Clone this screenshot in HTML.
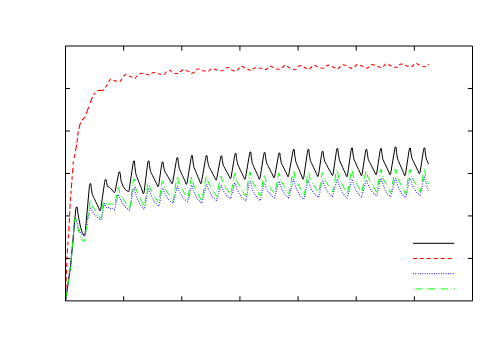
<!DOCTYPE html>
<html><head><meta charset="utf-8"><style>
html,body{margin:0;padding:0;background:#fff;}
body{width:500px;height:350px;overflow:hidden;font-family:"Liberation Sans",sans-serif;}
svg{display:block}
</style></head><body>
<svg width="500" height="350" viewBox="0 0 500 350">
<rect width="500" height="350" fill="#fff"/>
<g fill="none" stroke-linejoin="round" stroke-linecap="butt">
<path d="M65.5 300.9 L68.3 282.0 L70.7 265.0 L71.5 256.0 L73.0 240.0 L75.7 209.8 L76.3 207.0 L77.1 207.0 L77.9 212.9 L79.0 219.5 L80.6 227.3 L82.2 232.4 L83.3 234.6 L84.0 234.7 L84.5 235.3 L85.1 233.8 L89.4 186.4 L90.0 183.6 L90.8 183.6 L91.4 188.7 L92.1 193.1 L92.4 194.8 L93.3 196.6 L94.3 198.6 L95.7 201.7 L97.2 204.7 L98.6 207.8 L99.6 210.2 L100.1 210.8 L100.7 209.3 L104.6 182.4 L105.2 179.6 L106.0 179.6 L106.6 182.4 L107.4 186.4 L109.5 187.3 L111.0 188.8 L113.2 191.3 L114.0 192.2 L114.5 192.8 L115.1 191.3 L118.4 174.8 L119.0 172.0 L119.8 172.0 L120.4 174.8 L121.0 180.7 L123.1 186.4 L125.0 189.2 L126.7 190.7 L128.0 191.2 L128.5 191.8 L129.1 190.3 L133.0 163.8 L133.6 161.0 L134.4 161.0 L134.9 167.2 L135.7 172.6 L136.0 174.5 L136.8 176.7 L137.8 179.2 L139.2 182.8 L140.7 186.5 L142.1 190.1 L143.0 193.2 L143.5 193.8 L144.1 192.3 L147.6 163.8 L148.2 161.0 L149.0 161.0 L149.5 165.8 L150.3 170.0 L150.6 171.6 L151.4 173.3 L152.4 175.3 L153.8 178.1 L155.2 181.0 L156.7 183.9 L157.6 186.2 L158.1 186.8 L158.7 185.3 L161.6 164.8 L162.2 162.0 L163.0 162.0 L163.5 166.0 L164.3 169.6 L164.6 170.9 L165.4 172.4 L166.4 174.0 L167.8 176.5 L169.2 178.9 L170.7 181.4 L171.6 183.2 L172.1 183.8 L172.7 182.3 L176.4 160.4 L177.0 157.6 L177.8 157.6 L178.3 162.6 L179.0 167.0 L179.3 168.6 L180.1 170.4 L181.0 172.4 L182.4 175.4 L183.8 178.4 L185.1 181.4 L186.0 183.8 L186.5 184.4 L187.1 182.9 L191.0 158.4 L191.6 155.6 L192.4 155.6 L192.9 160.9 L193.6 165.5 L193.9 167.2 L194.7 169.1 L195.6 171.2 L196.9 174.4 L198.2 177.5 L199.6 180.7 L200.4 183.2 L200.9 183.8 L201.5 182.3 L205.6 158.4 L206.2 155.6 L207.0 155.6 L207.5 160.2 L208.3 164.2 L208.6 165.7 L209.4 167.4 L210.4 169.2 L211.8 171.9 L213.2 174.7 L214.7 177.4 L215.6 179.6 L216.1 180.2 L216.7 178.7 L220.4 158.8 L221.0 156.0 L221.8 156.0 L222.3 160.2 L223.0 164.0 L223.3 165.3 L224.1 166.9 L225.0 168.6 L226.4 171.1 L227.8 173.7 L229.1 176.2 L230.0 178.2 L230.5 178.8 L231.1 177.3 L234.6 156.2 L235.2 153.4 L236.0 153.4 L236.5 158.3 L237.3 162.5 L237.6 164.1 L238.4 165.8 L239.3 167.8 L240.7 170.7 L242.1 173.6 L243.5 176.5 L244.4 178.8 L244.9 179.4 L245.5 177.9 L249.4 154.8 L250.0 152.0 L250.8 152.0 L251.3 157.2 L252.0 161.6 L252.3 163.3 L253.1 165.1 L254.0 167.2 L255.4 170.2 L256.8 173.3 L258.1 176.3 L259.0 178.8 L259.5 179.4 L260.1 177.9 L263.6 155.4 L264.2 152.6 L265.0 152.6 L265.6 157.3 L266.3 161.4 L266.6 163.0 L267.5 164.6 L268.4 166.5 L269.8 169.3 L271.2 172.2 L272.7 175.0 L273.6 177.2 L274.1 177.8 L274.7 176.3 L278.4 155.8 L279.0 153.0 L279.8 153.0 L280.3 157.4 L281.0 161.3 L281.2 162.8 L282.0 164.4 L282.9 166.1 L284.2 168.8 L285.5 171.5 L286.8 174.1 L287.6 176.2 L288.1 176.8 L288.7 175.3 L292.8 152.2 L293.4 149.4 L294.2 149.4 L294.7 155.0 L295.5 159.9 L295.8 161.7 L296.6 163.7 L297.5 165.9 L298.9 169.2 L300.3 172.5 L301.7 175.9 L302.6 178.6 L303.1 179.2 L303.7 177.7 L307.4 152.2 L308.0 149.4 L308.8 149.4 L309.3 154.5 L310.1 158.9 L310.4 160.6 L311.2 162.4 L312.2 164.4 L313.6 167.5 L315.0 170.5 L316.5 173.6 L317.4 176.0 L317.9 176.6 L318.5 175.1 L321.6 154.2 L322.2 151.4 L323.0 151.4 L323.6 155.9 L324.4 159.9 L324.7 161.3 L325.6 163.0 L326.6 164.8 L328.0 167.5 L329.5 170.2 L331.0 172.9 L332.0 175.0 L332.5 175.6 L333.1 174.1 L336.4 151.2 L337.0 148.4 L337.8 148.4 L338.3 153.8 L339.1 158.4 L339.4 160.1 L340.2 162.0 L341.2 164.1 L342.6 167.3 L344.0 170.5 L345.5 173.6 L346.4 176.2 L346.9 176.8 L347.5 175.3 L351.0 150.8 L351.6 148.0 L352.4 148.0 L352.9 153.2 L353.7 157.8 L354.0 159.4 L354.9 161.3 L355.8 163.4 L357.2 166.5 L358.6 169.6 L360.1 172.7 L361.0 175.2 L361.5 175.8 L362.1 174.3 L365.4 152.2 L366.0 149.4 L366.8 149.4 L367.4 154.2 L368.1 158.3 L368.4 159.8 L369.3 161.5 L370.3 163.4 L371.7 166.3 L373.2 169.1 L374.6 172.0 L375.6 174.2 L376.1 174.8 L376.7 173.3 L380.0 151.4 L380.6 148.6 L381.4 148.6 L381.9 153.5 L382.6 157.8 L382.9 159.4 L383.7 161.1 L384.6 163.1 L386.0 166.0 L387.4 168.9 L388.7 171.9 L389.6 174.2 L390.1 174.8 L390.7 173.3 L394.6 149.8 L395.2 147.0 L396.0 147.0 L396.5 152.4 L397.3 157.1 L397.6 158.9 L398.4 160.8 L399.3 162.9 L400.7 166.2 L402.1 169.4 L403.5 172.6 L404.4 175.2 L404.9 175.8 L405.5 174.3 L409.0 150.8 L409.6 148.0 L410.4 148.0 L410.9 152.8 L411.7 157.0 L412.0 158.6 L412.9 160.3 L413.8 162.3 L415.2 165.1 L416.6 168.0 L418.1 170.9 L419.0 173.2 L419.5 173.8 L420.1 172.3 L423.4 150.8 L424.0 148.0 L424.8 148.0 L425.3 152.9 L426.0 157.2 L426.2 158.8 L427.0 160.5 L427.9 162.5 L428.6 164.0" stroke="#000" stroke-width="1"/>
<path d="M65.5 300.8 L65.6 297.5 M65.7 295.0 L65.9 290.8 M65.9 288.4 L66.1 284.2 M66.2 281.2 L66.3 277.0 M66.4 274.0 L66.6 269.8 M66.7 267.0 L66.8 262.8 M66.9 259.8 L67.1 256.2 M67.2 253.2 L67.5 248.4 M67.8 245.4 L68.0 241.8 M68.2 238.4 L68.5 234.2 M68.7 231.2 L68.9 228.6 L69.0 225.8 M69.2 222.8 L69.5 218.0 M69.6 215.0 L69.8 211.4 M69.9 209.0 L70.2 203.6 M70.3 201.2 L70.4 200.0 L70.7 196.6 M70.9 194.2 L71.1 190.6 M71.3 188.2 L71.8 182.2 M72.0 179.8 L72.2 176.2 M72.5 173.2 L72.9 167.8 M73.1 164.8 L73.4 161.4 L73.4 161.2 M74.1 158.0 L74.9 154.2 M75.5 151.2 L75.6 150.6 L76.7 144.6 M76.9 142.8 L77.5 138.0 M77.7 135.6 L78.0 133.2 L78.4 131.4 M78.9 129.0 L79.8 124.8 L80.9 122.6 M82.1 120.2 L82.2 120.0 L85.2 116.8 M86.3 113.8 L88.8 106.6 M90.2 103.0 L92.4 97.0 M93.6 94.6 L95.3 92.8 M97.2 90.9 L97.5 90.8 L100 90.2 L103 90.5" stroke="#ff0000" stroke-width="1.1"/>
<path d="M103.0 90.5 L105.0 88.5 L107.0 85.0 L108.5 82.0 L110.5 79.2 L113.0 80.2 L116.5 81.2 L120.0 81.8 L122.0 78.8 L124.0 75.5 L125.5 74.5 L129.0 76.0 L133.0 77.5 L135.0 78.5 L137.5 75.5 L140.0 73.5 L142.0 73.5 L146.5 74.3 L149.5 75.0 L152.5 72.8 L155.0 72.5 L158.5 73.8 L161.5 74.5 L164.5 74.3 L166.5 71.5 L169.0 70.3 L170.5 70.5 L172.0 72.2 L175.0 73.5 L179.0 73.5 L180.5 71.5 L183.5 69.5 L186.0 70.5 L189.0 71.5 L192.0 73.5 L194.5 72.0 L196.5 69.2 L200.0 69.0 L202.5 70.5 L206.5 71.5 L209.0 71.0 L211.0 68.8 L214.0 69.0 L217.5 70.3 L220.0 70.7 L223.0 70.5 L225.0 68.0 L228.5 67.5 L231.0 69.5 L234.5 71.2 L237.5 70.5 L239.5 67.5 L241.0 66.0 L242.5 66.5 L245.5 68.5 L248.5 69.5 L251.5 70.8 L253.5 68.5 L256.0 67.5 L259.0 68.0 L262.5 68.5 L265.5 69.8 L267.5 68.5 L270.0 66.3 L273.0 67.2 L276.0 69.0 L279.5 69.2 L282.0 68.0 L284.5 65.5 L285.5 65.0 L287.0 66.0 L290.5 68.5 L293.0 69.5 L296.0 69.3 L297.5 66.5 L300.5 65.5 L303.5 66.8 L306.8 68.5 L309.0 69.5 L312.0 66.5 L314.5 65.2 L317.5 66.8 L320.5 68.0 L324.5 68.3 L326.2 66.0 L328.5 65.0 L331.5 66.5 L335.0 68.0 L338.0 68.8 L340.5 66.0 L343.0 64.8 L346.0 65.5 L349.0 67.2 L351.8 68.5 L354.5 66.8 L357.0 64.5 L359.5 65.0 L363.0 66.5 L367.0 68.2 L369.0 67.0 L371.5 64.5 L374.5 65.1 L377.0 66.0 L380.5 67.5 L383.0 67.0 L385.5 64.0 L387.0 63.5 L388.5 64.5 L391.5 66.2 L394.5 67.3 L398.0 67.2 L399.5 64.5 L401.5 64.0 L403.5 64.2 L405.5 65.5 L409.5 66.8 L412.0 66.5 L414.5 64.0 L416.3 63.1 L417.5 64.0 L419.5 65.2 L422.5 66.2 L426.5 66.8 L428.0 65.0 L428.7 64.3" stroke="#ff0000" stroke-width="1.1" stroke-dasharray="3.7 2.808" stroke-dashoffset="2.571"/>
<path d="M65.5 300.9 L68.3 282.0 L70.7 265.0 L71.5 256.0 L73.0 240.0 L74.4 221.2 L75.0 218.4 L75.8 218.4 L76.5 221.0 L77.9 226.0 L79.5 230.5 L81.5 234.0 L83.0 235.6 L84.0 236.2 L84.5 236.8 L85.1 235.3 L89.6 210.2 L90.2 207.4 L91.0 207.4 L91.6 209.4 L92.5 211.0 L92.8 211.6 L93.7 213.1 L94.8 214.6 L96.3 216.4 L97.9 217.8 L99.4 218.9 L100.5 219.2 L101.0 219.8 L101.6 218.3 L103.6 206.4 L104.2 203.6 L105.0 203.6 L105.6 206.4 L107.0 208.0 L109.0 207.6 L111.0 208.6 L112.5 208.2 L114.0 209.0 L114.5 209.6 L115.1 208.1 L117.2 197.5 L117.8 194.7 L118.6 194.7 L119.3 197.2 L120.2 199.3 L120.6 199.9 L121.6 201.8 L122.7 203.7 L124.4 205.9 L126.0 207.6 L127.7 209.0 L128.9 209.5 L129.4 210.1 L130.0 208.6 L133.0 190.7 L133.6 187.9 L134.4 187.9 L135.0 191.5 L135.8 194.3 L136.1 195.3 L137.0 197.9 L138.0 200.4 L139.6 203.4 L141.1 205.8 L142.6 207.7 L143.6 208.6 L144.1 209.2 L144.7 207.7 L147.6 191.2 L148.2 188.4 L149.0 188.4 L149.6 191.4 L150.4 193.7 L150.7 194.5 L151.7 196.6 L152.7 198.7 L154.2 201.3 L155.7 203.3 L157.3 204.9 L158.3 205.5 L158.8 206.1 L159.4 204.6 L161.6 191.2 L162.2 188.4 L163.0 188.4 L163.6 190.8 L164.5 192.8 L164.8 193.4 L165.7 195.3 L166.7 197.0 L168.3 199.1 L169.8 200.8 L171.4 202.2 L172.4 202.6 L172.9 203.2 L173.5 201.7 L176.4 189.2 L177.0 186.4 L177.8 186.4 L178.4 188.9 L179.2 191.0 L179.5 191.6 L180.4 193.5 L181.4 195.4 L183.0 197.6 L184.5 199.3 L186.0 200.7 L187.0 201.2 L187.5 201.8 L188.1 200.3 L191.0 188.2 L191.6 185.4 L192.4 185.4 L192.9 188.4 L193.7 190.7 L194.0 191.5 L194.8 193.7 L195.8 195.8 L197.2 198.3 L198.7 200.4 L200.1 202.0 L201.0 202.6 L201.5 203.2 L202.1 201.7 L205.6 187.2 L206.2 184.4 L207.0 184.4 L207.6 187.0 L208.4 189.1 L208.7 189.8 L209.6 191.8 L210.6 193.7 L212.0 196.0 L213.5 197.8 L215.0 199.2 L216.0 199.7 L216.5 200.3 L217.1 198.8 L220.0 188.2 L220.6 185.4 L221.4 185.4 L221.9 187.6 L222.7 189.3 L223.0 189.9 L223.8 191.6 L224.8 193.2 L226.2 195.1 L227.7 196.6 L229.1 197.9 L230.0 198.2 L230.5 198.8 L231.1 197.3 L234.0 186.2 L234.6 183.4 L235.4 183.4 L236.1 186.3 L236.9 188.6 L237.2 189.4 L238.2 191.5 L239.2 193.5 L240.8 196.1 L242.3 198.0 L243.9 199.6 L245.0 200.2 L245.5 200.8 L246.1 199.3 L249.0 184.2 L249.6 181.4 L250.4 181.4 L251.0 184.7 L251.8 187.2 L252.1 188.1 L253.0 190.5 L254.0 192.7 L255.6 195.5 L257.1 197.7 L258.6 199.4 L259.6 200.2 L260.1 200.8 L260.7 199.3 L263.4 186.2 L264.0 183.4 L264.8 183.4 L265.4 185.7 L266.2 187.6 L266.5 188.3 L267.4 190.1 L268.4 191.8 L270.0 193.9 L271.5 195.5 L273.0 196.8 L274.0 197.2 L274.5 197.8 L275.1 196.3 L278.0 184.2 L278.6 181.4 L279.4 181.4 L279.9 184.1 L280.7 186.3 L281.0 187.0 L281.9 189.0 L282.8 191.0 L284.2 193.3 L285.6 195.2 L287.1 196.6 L288.0 197.2 L288.5 197.8 L289.1 196.3 L292.6 182.5 L293.2 179.7 L294.0 179.7 L294.6 183.0 L295.4 185.6 L295.7 186.5 L296.6 188.9 L297.6 191.1 L299.2 194.0 L300.7 196.2 L302.2 197.9 L303.2 198.7 L303.7 199.3 L304.3 197.8 L307.3 183.7 L307.9 180.9 L308.7 180.9 L309.3 183.7 L310.1 185.9 L310.4 186.6 L311.3 188.7 L312.3 190.6 L313.8 193.0 L315.3 194.9 L316.8 196.4 L317.8 197.0 L318.3 197.6 L318.9 196.1 L321.5 184.2 L322.1 181.4 L322.9 181.4 L323.5 183.9 L324.3 185.8 L324.6 186.5 L325.5 188.4 L326.5 190.1 L328.0 192.3 L329.5 194.0 L331.0 195.3 L332.0 195.8 L332.5 196.4 L333.1 194.9 L336.4 182.0 L337.0 179.2 L337.8 179.2 L338.4 182.4 L339.1 184.9 L339.4 185.7 L340.3 188.0 L341.3 190.2 L342.7 193.0 L344.2 195.1 L345.6 196.8 L346.6 197.5 L347.1 198.1 L347.7 196.6 L351.0 182.2 L351.6 179.4 L352.4 179.4 L352.9 182.3 L353.7 184.6 L354.0 185.4 L354.9 187.5 L355.8 189.5 L357.2 192.1 L358.6 194.0 L360.1 195.6 L361.0 196.2 L361.5 196.8 L362.1 195.3 L365.4 183.2 L366.0 180.4 L366.8 180.4 L367.4 182.9 L368.2 185.0 L368.5 185.6 L369.4 187.5 L370.4 189.4 L372.0 191.6 L373.5 193.3 L375.0 194.7 L376.0 195.2 L376.5 195.8 L377.1 194.3 L380.0 181.2 L380.6 178.4 L381.4 178.4 L381.9 181.5 L382.7 183.9 L383.0 184.7 L383.9 187.0 L384.8 189.1 L386.2 191.8 L387.6 193.9 L389.1 195.5 L390.0 196.2 L390.5 196.8 L391.1 195.3 L394.5 181.2 L395.1 178.4 L395.9 178.4 L396.5 181.7 L397.3 184.2 L397.6 185.1 L398.5 187.5 L399.5 189.7 L401.0 192.5 L402.5 194.7 L404.0 196.4 L405.0 197.2 L405.5 197.8 L406.1 196.3 L409.0 181.2 L409.6 178.4 L410.4 178.4 L411.0 181.2 L411.8 183.5 L412.1 184.2 L413.0 186.3 L414.0 188.3 L415.6 190.8 L417.1 192.7 L418.6 194.2 L419.6 194.8 L420.1 195.4 L420.7 193.9 L423.4 180.2 L424.0 177.4 L424.8 177.4 L425.3 180.8 L426.0 183.4 L426.2 184.3 L427.0 186.7 L427.9 189.0 L428.6 190.6" stroke="#0000ff" stroke-width="1.2" stroke-dasharray="0.75 1.59"/>
<path d="M65.5 300.9 L68.3 282.0 L70.7 265.0 L71.5 256.0 L73.0 240.0 L74.4 221.2 L75.0 218.4 L75.8 218.4 L76.7 223.1 L78.0 228.5 L79.8 234.8 L81.5 239.0 L82.8 240.7 L83.6 240.7 L84.1 241.3 L84.7 239.8 L89.6 203.2 L90.2 200.4 L91.0 200.4 L91.6 203.7 L92.5 206.6 L92.8 207.0 L93.7 208.3 L94.8 209.7 L96.3 211.9 L97.9 214.0 L99.4 216.2 L100.5 217.7 L101.0 218.3 L101.6 216.8 L103.0 203.9 L103.6 201.1 L104.4 201.1 L105.0 203.9 L106.0 203.6 L108.5 204.3 L110.5 203.6 L112.5 204.3 L114.0 204.7 L114.5 205.3 L115.1 203.8 L117.4 190.7 L118.0 187.9 L118.8 187.9 L119.5 191.7 L120.4 195.1 L120.7 195.6 L121.7 197.0 L122.8 198.7 L124.5 201.1 L126.1 203.6 L127.8 206.0 L128.9 207.9 L129.4 208.5 L130.0 207.0 L133.0 181.8 L133.6 179.0 L134.4 179.0 L135.0 184.2 L135.8 188.8 L136.1 189.4 L137.0 191.4 L138.0 193.6 L139.6 196.9 L141.1 200.2 L142.6 203.5 L143.6 206.2 L144.1 206.8 L144.7 205.3 L147.6 184.8 L148.2 182.0 L149.0 182.0 L149.6 185.8 L150.4 189.2 L150.7 189.7 L151.6 191.2 L152.6 192.9 L154.0 195.4 L155.5 197.8 L157.0 200.3 L158.0 202.2 L158.5 202.8 L159.1 201.3 L161.6 184.0 L162.2 181.2 L163.0 181.2 L163.6 184.8 L164.5 188.0 L164.8 188.5 L165.7 189.9 L166.7 191.4 L168.3 193.8 L169.8 196.1 L171.4 198.5 L172.4 200.2 L172.9 200.8 L173.5 199.3 L176.4 180.2 L177.0 177.4 L177.8 177.4 L178.4 181.3 L179.2 184.7 L179.5 185.2 L180.4 186.7 L181.4 188.4 L183.0 190.9 L184.5 193.4 L186.0 195.9 L187.0 197.8 L187.5 198.4 L188.1 196.9 L191.0 179.8 L191.6 177.0 L192.4 177.0 L192.9 181.4 L193.7 185.3 L194.0 185.9 L194.8 187.6 L195.8 189.5 L197.2 192.3 L198.7 195.1 L200.1 198.0 L201.0 200.2 L201.5 200.8 L202.1 199.3 L205.6 178.8 L206.2 176.0 L207.0 176.0 L207.6 179.7 L208.4 183.1 L208.7 183.5 L209.6 185.0 L210.6 186.6 L212.0 189.0 L213.5 191.5 L215.0 193.9 L216.0 195.7 L216.5 196.3 L217.1 194.8 L220.0 179.1 L220.6 176.3 L221.4 176.3 L221.9 179.7 L222.7 182.7 L223.0 183.1 L223.8 184.5 L224.8 185.9 L226.2 188.2 L227.7 190.4 L229.1 192.6 L230.0 194.2 L230.5 194.8 L231.1 193.3 L234.0 176.6 L234.6 173.8 L235.4 173.8 L236.1 177.9 L236.9 181.5 L237.2 182.0 L238.2 183.6 L239.2 185.3 L240.8 187.9 L242.3 190.6 L243.9 193.2 L245.0 195.2 L245.5 195.8 L246.1 194.3 L249.0 175.2 L249.6 172.4 L250.4 172.4 L251.0 176.8 L251.8 180.6 L252.1 181.1 L253.0 182.8 L254.0 184.7 L255.6 187.4 L257.1 190.2 L258.6 193.0 L259.6 195.2 L260.1 195.8 L260.7 194.3 L263.4 178.2 L264.0 175.4 L264.8 175.4 L265.4 178.8 L266.2 181.8 L266.5 182.2 L267.4 183.5 L268.4 185.0 L270.0 187.2 L271.5 189.4 L273.0 191.6 L274.0 193.2 L274.5 193.8 L275.1 192.3 L278.0 176.2 L278.6 173.4 L279.4 173.4 L279.9 177.2 L280.7 180.5 L281.0 181.0 L281.9 182.4 L282.8 184.1 L284.2 186.5 L285.6 188.9 L287.1 191.4 L288.0 193.2 L288.5 193.8 L289.1 192.3 L292.6 174.0 L293.2 171.2 L294.0 171.2 L294.6 175.7 L295.5 179.6 L295.8 180.2 L296.7 181.9 L297.8 183.8 L299.3 186.7 L300.9 189.6 L302.4 192.4 L303.5 194.7 L304.0 195.3 L304.6 193.8 L307.4 175.2 L308.0 172.4 L308.8 172.4 L309.4 176.2 L310.2 179.6 L310.5 180.1 L311.4 181.6 L312.4 183.3 L314.0 185.8 L315.5 188.2 L317.0 190.7 L318.0 192.6 L318.5 193.2 L319.1 191.7 L321.6 175.8 L322.2 173.0 L323.0 173.0 L323.6 176.5 L324.4 179.6 L324.7 180.0 L325.6 181.4 L326.6 182.9 L328.0 185.2 L329.5 187.5 L331.0 189.7 L332.0 191.4 L332.5 192.0 L333.1 190.5 L336.0 173.0 L336.6 170.2 L337.4 170.2 L338.0 174.6 L338.8 178.4 L339.1 179.0 L340.0 180.7 L341.0 182.6 L342.6 185.4 L344.1 188.2 L345.6 191.0 L346.6 193.2 L347.1 193.8 L347.7 192.3 L351.0 172.6 L351.6 169.8 L352.4 169.8 L352.9 174.1 L353.7 177.8 L354.0 178.4 L354.9 180.0 L355.8 181.8 L357.2 184.6 L358.6 187.3 L360.1 190.1 L361.0 192.2 L361.5 192.8 L362.1 191.3 L365.4 173.6 L366.0 170.8 L366.8 170.8 L367.4 174.7 L368.2 178.1 L368.5 178.6 L369.4 180.1 L370.4 181.8 L372.0 184.3 L373.5 186.8 L375.0 189.3 L376.0 191.2 L376.5 191.8 L377.1 190.3 L380.0 172.5 L380.6 169.7 L381.4 169.7 L381.9 174.0 L382.7 177.8 L383.0 178.3 L383.9 180.0 L384.8 181.8 L386.2 184.5 L387.6 187.3 L389.1 190.0 L390.0 192.2 L390.5 192.8 L391.1 191.3 L394.6 172.0 L395.2 169.2 L396.0 169.2 L396.6 173.8 L397.4 177.8 L397.7 178.4 L398.6 180.1 L399.6 182.1 L401.0 185.0 L402.5 187.9 L404.0 190.9 L405.0 193.2 L405.5 193.8 L406.1 192.3 L409.0 172.5 L409.6 169.7 L410.4 169.7 L411.0 173.8 L411.8 177.4 L412.1 177.9 L413.0 179.5 L414.0 181.3 L415.6 183.9 L417.1 186.5 L418.6 189.2 L419.6 191.2 L420.1 191.8 L420.7 190.3 L423.4 172.5 L424.0 169.7 L424.8 169.7 L425.3 174.3 L426.0 178.2 L426.2 178.8 L427.0 180.6 L427.9 182.5 L428.6 184.0" stroke="#00ff00" stroke-width="1" stroke-dasharray="0.7 1.5 7.3 3.3"/>
<path d="M413 243.3 H454" stroke="#000" stroke-width="1"/>
<path d="M413 258.5 H454" stroke="#ff0000" stroke-width="1" stroke-dasharray="4 2.9"/>
<path d="M413 273.7 H454" stroke="#0000ff" stroke-width="1.2" stroke-dasharray="0.75 1.59"/>
<path d="M413 288.95 H455" stroke="#00ff00" stroke-width="1" stroke-dasharray="0.7 1.5 7.3 3.3"/>
<rect x="65.5" y="46.0" width="407.0" height="254.89999999999998" stroke="#000" stroke-width="1"/>
<path d="M123.64285714285714 300.9 v-4.6 M123.64285714285714 46.0 v4.6 M181.78571428571428 300.9 v-4.6 M181.78571428571428 46.0 v4.6 M239.92857142857142 300.9 v-4.6 M239.92857142857142 46.0 v4.6 M298.07142857142856 300.9 v-4.6 M298.07142857142856 46.0 v4.6 M356.2142857142857 300.9 v-4.6 M356.2142857142857 46.0 v4.6 M414.35714285714283 300.9 v-4.6 M414.35714285714283 46.0 v4.6 M65.5 88.48333333333332 h4.6 M472.5 88.48333333333332 h-4.6 M65.5 130.96666666666664 h4.6 M472.5 130.96666666666664 h-4.6 M65.5 173.45 h4.6 M472.5 173.45 h-4.6 M65.5 215.9333333333333 h4.6 M472.5 215.9333333333333 h-4.6 M65.5 258.41666666666663 h4.6 M472.5 258.41666666666663 h-4.6 " stroke="#000" stroke-width="1"/>
</g>
</svg>
</body></html>
